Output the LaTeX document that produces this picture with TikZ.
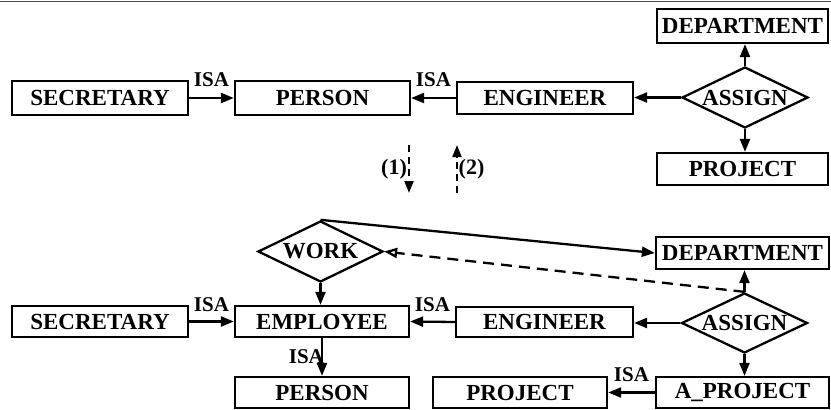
\documentclass[tikz,border=0pt]{standalone}
\usepackage{fontspec}
\setmainfont{Liberation Serif}
\usetikzlibrary{shapes.geometric,arrows.meta}
\begin{document}
\begin{tikzpicture}[x=1pt,y=-1pt,
  ent/.style={draw, line width=2.3pt, inner sep=0pt,
    font=\fontsize{23}{25}\selectfont\bfseries},
  rel/.style={draw, diamond, line width=2.3pt, inner sep=0pt, aspect=2,
    minimum width=126pt, minimum height=61pt,
    font=\fontsize{23}{25}\selectfont\bfseries},
  conn/.style={line width=2.3pt, -{Triangle[length=13pt,width=10pt]}},
  dconn/.style={line width=2.3pt, dash pattern=on 11pt off 7pt,
    -{Triangle[open,length=13pt,width=10pt]}},
  mconn/.style={line width=2pt, dash pattern=on 7pt off 5pt,
    -{Triangle[length=12pt,width=9pt]}},
  isa/.style={inner sep=0pt, font=\fontsize{21}{23}\selectfont\bfseries},
  num/.style={inner sep=0pt, font=\fontsize{22}{24}\selectfont\bfseries}]
\useasboundingbox (0,0) rectangle (831,410);
\draw[line width=0.9pt, black!70] (0,1) coordinate (tl) -- (831,1) coordinate (tr);

% ---- top schema ----
\node[ent, minimum width=176pt, minimum height=34pt] (sec1) at (100,98) {SECRETARY};
\node[ent, minimum width=175pt, minimum height=34pt] (per1) at (322.5,98) {PERSON};
\node[ent, minimum width=176pt, minimum height=32pt] (eng1) at (545,98) {ENGINEER};
\node[rel] (asg1) at (745,97.5) {ASSIGN};
\node[ent, minimum width=171pt, minimum height=34pt] (dep1) at (742.5,26) {DEPARTMENT};
\node[ent, minimum width=171pt, minimum height=32pt] (prj1) at (742.5,169) {PROJECT};

\draw[conn] (sec1.east) -- node[isa, above=10pt] (isa1) {ISA} (per1.west);
\draw[conn] (eng1.west) -- node[isa, above=10pt] (isa2) {ISA} (per1.east);
\draw[conn] (asg1.west) -- (asg1.west -| eng1.east);
\draw[conn] (asg1.north) -- (asg1.north |- dep1.south);
\draw[conn] (asg1.south) -- (asg1.south |- prj1.north);

% ---- transformation arrows ----
\coordinate (m1a) at (409,145);
\coordinate (m1b) at (409,193);
\coordinate (m2a) at (457,193);
\coordinate (m2b) at (457,145);
\draw[mconn] (m1a) -- (m1b);
\draw[mconn] (m2a) -- (m2b);
\node[num] (lab1) at (394,169) {(1)};
\node[num] (lab2) at (471.5,169) {(2)};

% ---- bottom schema ----
\node[rel, minimum width=125pt] (work) at (320.5,251.5) {WORK};
\node[ent, minimum width=176pt, minimum height=31pt] (sec2) at (100,321.5) {SECRETARY};
\node[ent, minimum width=174pt, minimum height=31pt] (emp) at (322,321.5) {EMPLOYEE};
\node[ent, minimum width=174pt, minimum height=31pt] (per2) at (322,392.5) {PERSON};
\node[ent, minimum width=177pt, minimum height=30pt] (eng2) at (544.5,322) {ENGINEER};
\node[rel, minimum height=60pt] (asg2) at (744.5,323) {ASSIGN};
\node[ent, minimum width=173pt, minimum height=32pt] (dep2) at (742.5,253) {DEPARTMENT};
\node[ent, minimum width=174pt, minimum height=31pt] (prj2) at (520,392.5) {PROJECT};
\node[ent, minimum width=173pt, minimum height=31pt] (aprj) at (742.5,392.5) {A\_PROJECT};

\draw[conn] (sec2.east) -- node[isa, above=9pt] (isa3) {ISA} (emp.west);
\draw[conn] (eng2.west) -- node[isa, above=9pt] (isa4) {ISA} (emp.east);
\draw[conn] (emp.south) -- node[isa, left=-3pt] (isa5) {ISA} (per2.north);
\draw[conn] (aprj.west) -- node[isa, above=10pt] (isa6) {ISA} (prj2.east);
\draw[conn] (work.south) -- (work.south |- emp.north);
\draw[conn] (asg2.west) -- (asg2.west -| eng2.east);
\draw[conn] (asg2.north) -- (asg2.north |- dep2.south);
\draw[conn] (asg2.south) -- (asg2.south |- aprj.north);
\draw[conn] (work.north) -- (dep2.west);
\draw[dconn] (asg2.north) -- (work.east);
\end{tikzpicture}
\end{document}
